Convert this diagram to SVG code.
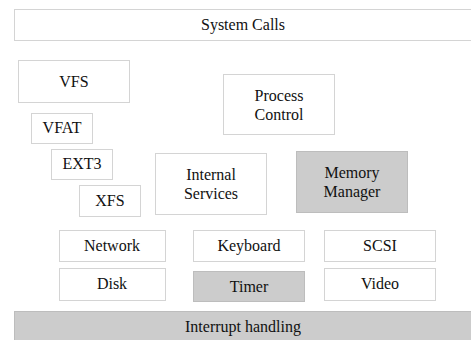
<svg xmlns="http://www.w3.org/2000/svg" width="471" height="340" viewBox="0 0 471 340">
<rect x="0" y="0" width="471" height="340" fill="#fff"/>
<g id="syscalls"><rect x="14.5" y="9.5" width="460" height="31" fill="#fff" stroke="#d4d4d4"/><text style="font-family:'Times New Roman','Liberation Serif',serif;font-size:16px" text-anchor="middle" fill="#111" x="243" y="30">System Calls</text></g>
<g id="vfs"><rect x="18.5" y="60.5" width="111" height="42" fill="#fff" stroke="#d4d4d4"/><text style="font-family:'Times New Roman','Liberation Serif',serif;font-size:16px" text-anchor="middle" fill="#111" x="74" y="87">VFS</text></g>
<g id="process"><rect x="223.5" y="74.5" width="111" height="60" fill="#fff" stroke="#d4d4d4"/><text style="font-family:'Times New Roman','Liberation Serif',serif;font-size:16px" text-anchor="middle" fill="#111" x="279" y="101">Process</text><text style="font-family:'Times New Roman','Liberation Serif',serif;font-size:16px" text-anchor="middle" fill="#111" x="279" y="120">Control</text></g>
<g id="vfat"><rect x="31.5" y="113.5" width="61" height="30" fill="#fff" stroke="#d4d4d4"/><text style="font-family:'Times New Roman','Liberation Serif',serif;font-size:16px" text-anchor="middle" fill="#111" x="62" y="133">VFAT</text></g>
<g id="ext3"><rect x="51.5" y="149.5" width="61" height="30" fill="#fff" stroke="#d4d4d4"/><text style="font-family:'Times New Roman','Liberation Serif',serif;font-size:16px" text-anchor="middle" fill="#111" x="82" y="169">EXT3</text></g>
<g id="xfs"><rect x="79.5" y="185.5" width="61" height="31" fill="#fff" stroke="#d4d4d4"/><text style="font-family:'Times New Roman','Liberation Serif',serif;font-size:16px" text-anchor="middle" fill="#111" x="110" y="206">XFS</text></g>
<g id="internal"><rect x="155.5" y="153.5" width="111" height="61" fill="#fff" stroke="#d4d4d4"/><text style="font-family:'Times New Roman','Liberation Serif',serif;font-size:16px" text-anchor="middle" fill="#111" x="211" y="180">Internal</text><text style="font-family:'Times New Roman','Liberation Serif',serif;font-size:16px" text-anchor="middle" fill="#111" x="211" y="199">Services</text></g>
<g id="memory"><rect x="296.5" y="151.5" width="111" height="61" fill="#ccc" stroke="#bdbdbd"/><text style="font-family:'Times New Roman','Liberation Serif',serif;font-size:16px" text-anchor="middle" fill="#111" x="352" y="178">Memory</text><text style="font-family:'Times New Roman','Liberation Serif',serif;font-size:16px" text-anchor="middle" fill="#111" x="352" y="197">Manager</text></g>
<g id="network"><rect x="59.5" y="230.5" width="106" height="31" fill="#fff" stroke="#d4d4d4"/><text style="font-family:'Times New Roman','Liberation Serif',serif;font-size:16px" text-anchor="middle" fill="#111" x="112" y="251">Network</text></g>
<g id="keyboard"><rect x="193.5" y="230.5" width="111" height="31" fill="#fff" stroke="#d4d4d4"/><text style="font-family:'Times New Roman','Liberation Serif',serif;font-size:16px" text-anchor="middle" fill="#111" x="249" y="251">Keyboard</text></g>
<g id="scsi"><rect x="324.5" y="230.5" width="111" height="31" fill="#fff" stroke="#d4d4d4"/><text style="font-family:'Times New Roman','Liberation Serif',serif;font-size:16px" text-anchor="middle" fill="#111" x="380" y="251">SCSI</text></g>
<g id="disk"><rect x="59.5" y="268.5" width="106" height="32" fill="#fff" stroke="#d4d4d4"/><text style="font-family:'Times New Roman','Liberation Serif',serif;font-size:16px" text-anchor="middle" fill="#111" x="112" y="289">Disk</text></g>
<g id="timer"><rect x="193.5" y="271.5" width="111" height="30" fill="#ccc" stroke="#bdbdbd"/><text style="font-family:'Times New Roman','Liberation Serif',serif;font-size:16px" text-anchor="middle" fill="#111" x="249" y="292">Timer</text></g>
<g id="video"><rect x="324.5" y="268.5" width="111" height="32" fill="#fff" stroke="#d4d4d4"/><text style="font-family:'Times New Roman','Liberation Serif',serif;font-size:16px" text-anchor="middle" fill="#111" x="380" y="289">Video</text></g>
<g id="interrupt"><rect x="14.5" y="311.5" width="460" height="35" fill="#ccc" stroke="#bdbdbd"/><text style="font-family:'Times New Roman','Liberation Serif',serif;font-size:16px" text-anchor="middle" fill="#111" x="243" y="332">Interrupt handling</text></g>
<g id="connectors"></g>
</svg>
